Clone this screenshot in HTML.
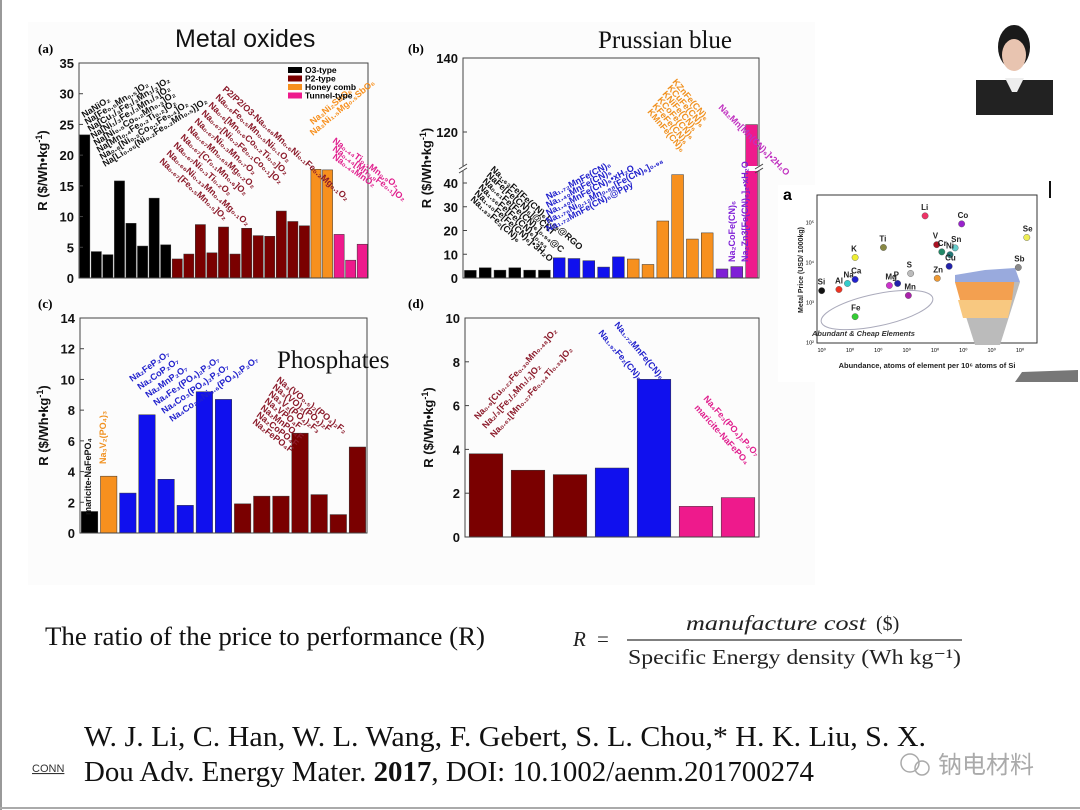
<!DOCTYPE html>
<html><head><meta charset="utf-8">
<style>
html,body{margin:0;padding:0;background:#fff;}
svg{display:block;}
.tk{font-family:"Liberation Sans",sans-serif;font-weight:bold;font-size:13px;fill:#111;}
.lb{font-family:"Liberation Sans",sans-serif;font-weight:bold;font-size:9px;}
</style></head>
<body>
<svg id="s" width="1080" height="810" viewBox="0 0 1080 810" xmlns="http://www.w3.org/2000/svg">
<rect x="0" y="0" width="1080" height="810" fill="#fff"/>
<rect x="28" y="22" width="787" height="563" fill="#fcfcfc"/>
<line x1="1" y1="0" x2="1" y2="810" stroke="#999" stroke-width="2"/>
<line x1="0" y1="808" x2="1080" y2="808" stroke="#aaa" stroke-width="2"/>

<text x="175" y="47" font-family="Liberation Sans,sans-serif" font-size="25" fill="#111">Metal oxides</text>
<text x="598" y="48" font-family="Liberation Serif,serif" font-size="25" fill="#111">Prussian blue</text>

<text x="38" y="53" font-family="Liberation Serif,serif" font-weight="bold" font-size="13">(a)</text>
<text x="408" y="53" font-family="Liberation Serif,serif" font-weight="bold" font-size="13">(b)</text>
<text x="38" y="308" font-family="Liberation Serif,serif" font-weight="bold" font-size="13">(c)</text>
<text x="408" y="308" font-family="Liberation Serif,serif" font-weight="bold" font-size="13">(d)</text>

<g id="pa"></g>
<g id="pb"></g>
<g id="pc"></g>
<g id="pd"></g>

<text x="277" y="368" font-family="Liberation Serif,serif" font-size="25" fill="#111">Phosphates</text>

<g font-family="Liberation Sans,sans-serif" font-weight="bold" font-size="8.5">
<rect x="288" y="67" width="14" height="6" fill="#000"/><text x="305" y="73">O3-type</text>
<rect x="288" y="75.5" width="14" height="6" fill="#7a0000"/><text x="305" y="81.5">P2-type</text>
<rect x="288" y="84" width="14" height="6" fill="#f7901e"/><text x="305" y="90">Honey comb</text>
<rect x="288" y="92.5" width="14" height="6" fill="#ee1a8c"/><text x="305" y="98.5">Tunnel-type</text>
</g>

<g id="inset"></g>

<g>
<rect x="976" y="15" width="77" height="100" fill="#fff"/>
<rect x="976" y="80" width="77" height="35" fill="#222"/>
<polygon points="1005,78 1024,78 1017,92 1012,92" fill="#eee"/>
<ellipse cx="1014" cy="47" rx="16" ry="22" fill="#1a1a1a"/>
<ellipse cx="1014" cy="55" rx="12" ry="16" fill="#e8c4b0"/>
</g>
<line x1="1050" y1="181" x2="1050" y2="198" stroke="#111" stroke-width="2"/>

<text x="45" y="645" font-family="Liberation Serif,serif" font-size="26" fill="#111" textLength="440" lengthAdjust="spacingAndGlyphs">The ratio of the price to performance (R)</text>
<g font-family="Liberation Serif,serif" fill="#222">
<text x="573" y="646" font-size="21" font-style="italic">R</text>
<text x="597" y="646" font-size="21">=</text>
<text x="686" y="630" font-size="21" font-style="italic" textLength="180" lengthAdjust="spacingAndGlyphs">manufacture cost</text>
<text x="876" y="630" font-size="20">($)</text>
<line x1="627" y1="640" x2="962" y2="640" stroke="#333" stroke-width="1.3"/>
<text x="628" y="664" font-size="21" textLength="333" lengthAdjust="spacingAndGlyphs">Specific Energy density  (Wh kg⁻¹)</text>
</g>
<g font-family="Liberation Serif,serif" font-size="28" fill="#111">
<text x="84" y="746" textLength="842" lengthAdjust="spacingAndGlyphs">W. J. Li, C. Han, W. L. Wang, F. Gebert, S. L. Chou,* H. K. Liu, S. X.</text>
<text x="84" y="781" textLength="730" lengthAdjust="spacingAndGlyphs">Dou Adv. Energy Mater. <tspan font-weight="bold">2017</tspan>, DOI: 10.1002/aenm.201700274</text>
</g>
<text x="32" y="772" font-family="Liberation Sans,sans-serif" font-size="11" fill="#333" text-decoration="underline">CONN</text>
<g fill="#999">
<circle cx="910" cy="763" r="9" fill="none" stroke="#aaa" stroke-width="1.5"/>
<circle cx="922" cy="768" r="7" fill="none" stroke="#aaa" stroke-width="1.5"/>
<text x="938" y="773" font-family="Liberation Sans,Noto Sans CJK SC,sans-serif" font-size="24" fill="#aaa">钠电材料</text>
</g>
</svg>

<script>
const aValues=[23.3,4.3,3.8,15.8,8.9,5.2,13,5.4,3.1,3.9,8.7,4.1,8.3,3.9,8.1,6.9,6.8,10.9,9.2,8.5,17.7,17.6,7.1,2.9,5.5];
const aGroups=['o3','o3','o3','o3','o3','o3','o3','o3','p2','p2','p2','p2','p2','p2','p2','p2','p2','p2','p2','p2','hc','hc','tn','tn','tn'];
const aTicks=[0,5,10,15,20,25,30,35];
const bValues=[3.2,4.3,3.3,4.3,3.3,3.3,8.5,8.2,7.3,4.6,8.9,8,5.7,24,43.5,16.4,19,3.8,4.8,122];
const bGroups=['k','k','k','k','k','k','bl','bl','bl','bl','bl','or','or','or','or','or','or','pu','pu','pk'];
const bTicksLow=[0,10,20,30,40];
const bTicksHigh=[120,140];
const cValues=[1.4,3.7,2.6,7.7,3.5,1.8,9.2,8.7,1.9,2.4,2.4,6.5,2.5,1.2,5.6];
const cGroups=['k','or','bl','bl','bl','bl','bl','bl','mr','mr','mr','mr','mr','mr','mr'];
const cTicks=[0,2,4,6,8,10,12,14];
const dValues=[3.8,3.05,2.85,3.15,7.2,1.4,1.8];
const dGroups=['mr','mr','mr','bl','bl','pk','pk'];
const dTicks=[0,2,4,6,8,10];
const insetElements=['Si','Al','Na','Ca','K','Fe','Ti','Mg','P','S','Mn','Li','V','Cr','Zn','Sn','Ni','Cu','Co','Sb','Se'];
const insetAbund=[0,0.61,0.91,1.18,1.18,1.18,2.18,2.39,2.68,3.14,3.06,3.65,4.06,4.24,4.08,4.71,4.53,4.5,4.94,6.94,7.24];
const insetPrice=[3.3,3.33,3.48,3.58,4.13,2.65,4.38,3.43,3.48,3.73,3.18,5.17,4.45,4.27,3.61,4.37,4.2,3.91,4.97,3.88,4.63];
const insetColors=['#111','#e32','#3cc','#22c','#ee3','#3c3','#884','#c3c','#22a','#bbb','#a2a','#e36','#a12','#286','#e93','#6cc','#277','#22a','#92c','#888','#ee5'];

const COL={o3:'#000',p2:'#7a0000',hc:'#f7901e',tn:'#ee1a8c',k:'#000',bl:'#1010ee',or:'#f7901e',pu:'#7f1fd6',pk:'#ee1a8c',mr:'#7a0000'};
const NS='http://www.w3.org/2000/svg';
function mk(tag,attrs,parent){const e=document.createElementNS(NS,tag);for(const k in attrs)e.setAttribute(k,attrs[k]);parent.appendChild(e);return e;}

function panel(gid,x0,x1,yTop,yBot,vmax,vals,groups,ticks,name,pad){
  const g=document.getElementById(gid);
  const y=v=>yBot-(v/vmax)*(yBot-yTop);
  const band=(x1-x0)/vals.length;
  vals.forEach((v,i)=>{
    const r=mk('rect',{x:x0+i*band+band*pad/2,y:y(v),width:band*(1-pad),height:yBot-y(v),fill:COL[groups[i]],stroke:'#333','stroke-width':0.5},g);
    
    
  });
  mk('rect',{x:x0,y:yTop,width:x1-x0,height:yBot-yTop,fill:'none',stroke:'#444','stroke-width':1},g);
  ticks.forEach(t=>{
    mk('line',{x1:x0,x2:x0+4,y1:y(t),y2:y(t),stroke:'#444'},g);
    const tx=mk('text',{x:x0-5,y:y(t)+5,'text-anchor':'end',class:'tk'},g);tx.textContent=t;
    
    
  });
  const yt=mk('text',{x:0,y:0,class:'tk','text-anchor':'middle',transform:`translate(${x0-32},${(yTop+yBot)/2}) rotate(-90)`},g);
  yt.innerHTML='R ($/Wh•kg<tspan font-size="9" dy="-5">-1</tspan><tspan dy="5">)</tspan>';
  
  
  return {y,band};
}
function labels(gid,list,x,y,dx,dy,rot,color){
  const g=document.getElementById(gid);
  list.forEach((s,i)=>{
    const t=mk('text',{x:0,y:0,class:'lb',fill:color,transform:`translate(${x+i*dx},${y+i*dy}) rotate(${rot})`},g);
    t.textContent=s;
    
    
  });
}

panel('pa',79,368,63,278,35,aValues,aGroups,aTicks,'metal-oxides',0.12);
labels('pa',['NaNiO₂','Na[Fe₀.₅Mn₀.₅]O₂','Na[Cu₁/₃Fe₁/₃Mn₁/₃]O₂','Na[Ni₁/₃Fe₁/₃Mn₁/₃]O₂','Na[Ni₀.₅Co₀.₂Mn₀.₃]O₂','Na[Mn₀.₄Fe₀.₂Ti₀.₂]O₂','Na₀.₈[Ni₀.₃Co₀.₁Fe₀.₄]O₂','Na[Li₀.₀₅(Ni₀.₂Fe₀.₂Mn₀.₅)]O₂'],84,118,3,7,-32,'#111');
labels('pa',['P2/P2/O3-Na₀.₆₆Mn₀.₆Ni₀.₁Fe₀.₂Mg₀.₁O₂','Na₀.₆Fe₀.₅Mn₀.₅Ni₀.₁O₂','Na₀.₆[Mn₀.₆Co₀.₂Ti₀.₂]O₂','Na₀.₆₇[Ni₀.₂Fe₀.₁Co₀.₁]O₂','Na₀.₆₇Ni₀.₃Mn₀.₇O₂','Na₀.₆₇Mn₀.₆₅Mg₀.₂O₂','Na₀.₆₇[Cr₀.₁Mn₀.₆]O₂','Na₀.₆₇Ni₀.₃Ti₀.₂O₂','Na₀.₆₆Ni₀.₃₃Mn₀.₄Mg₀.₁O₂','Na₀.₆₇[Fe₀.₅Mn₀.₅]O₂'],222,90,-7,8,42,'#8b1a2a');
labels('pa',['Na₃Ni₂SbO₆','Na₃Ni₁.₅Mg₀.₅SbO₆'],313,125,0,11,-40,'#f7901e');
labels('pa',['Na₀.₄₄Ti₀.₁Mn₀.₉O₂','Na₀.₄₄[Mn₀.₉Fe₀.₁]O₂','Na₀.₄₄MnO₂'],332,142,0,8,36,'#e0208e');

(function(){
  const g=document.getElementById('pb');
  const x0=463,x1=759,yBot=278,yTop=58;
  const yl=v=>yBot-v*2.375;
  const yh=v=>132-(v-120)*3.7;
  const ymap=v=>v<=45?yl(v):yh(v);
  const band=(x1-x0)/bValues.length;
  bValues.forEach((v,i)=>{
    const r=mk('rect',{x:x0+i*band+band*0.1,y:ymap(v),width:band*0.8,height:yBot-ymap(v),fill:COL[bGroups[i]],stroke:'#333','stroke-width':0.5},g);
    
    
  });
  mk('rect',{x:x0,y:yTop,width:x1-x0,height:yBot-yTop,fill:'none',stroke:'#444'},g);
  mk('rect',{x:x0-4,y:166,width:x1-x0+8,height:5,fill:'#fcfcfc'},g);
  [x0,x1].forEach(xx=>{mk('line',{x1:xx-4,y1:169,x2:xx+4,y2:164,stroke:'#444'},g);mk('line',{x1:xx-4,y1:173,x2:xx+4,y2:168,stroke:'#444'},g);});
  bTicksLow.forEach(t=>{mk('line',{x1:x0,x2:x0+4,y1:yl(t),y2:yl(t),stroke:'#444'},g);const tx=mk('text',{x:x0-5,y:yl(t)+5,'text-anchor':'end',class:'tk'},g);tx.textContent=t;});
  bTicksHigh.forEach(t=>{mk('line',{x1:x0,x2:x0+4,y1:yh(t),y2:yh(t),stroke:'#444'},g);const tx=mk('text',{x:x0-5,y:yh(t)+5,'text-anchor':'end',class:'tk'},g);tx.textContent=t;});
  const yt=mk('text',{x:0,y:0,class:'tk','text-anchor':'middle',transform:`translate(${x0-32},168) rotate(-90)`},g);
  yt.innerHTML='R ($/Wh•kg<tspan font-size="9" dy="-5">-1</tspan><tspan dy="5">)</tspan>';
  
  
})();
labels('pb',['Na₁.₆₃Fe[Fe(CN)₆]₀.₈₉@RGO','NaFe[Fe(CN)₆]@CNT','Na₀.₆₁Fe[Fe(CN)₆]₀.₉₄@C','Na₁.₅₆Fe[Fe(CN)₆]₀.₉₄','Na₁.₄₀Fe[Fe(CN)₆]•3H₂O','Na₁.₈₃Fe₂(CN)₆'],490,170,-4,6,42,'#111');
labels('pb',['Na₁.₇₂MnFe(CN)₆','Na₁.₄₀MnFe(CN)₆','Na₁.₄₀MnFe(CN)₆•xH₂O','Na₁.₇₆Ni₀.₁₂Mn₀.₈₈[Fe(CN)₆]₀.₉₈','Na₁.₇₂MnFe(CN)₆@Ppy'],548,200,0,8,-28,'#2020cc');
labels('pb',['KZnFe(CN)₆','KCuFe(CN)₆','KNiFe(CN)₆','KCoFe(CN)₆','KFeFe(CN)₆','KMnFe(CN)₆'],672,82,-5,6,50,'#f0901e');
labels('pb',['Na₂CoFe(CN)₆','Na₂Zn3[Fe(CN)₆]₂•xH₂O'],735,262,13,0,-90,'#7f1fd6');
labels('pb',['Na₂Mn[Mn(CN)₆]•2H₂O'],718,108,0,0,45,'#c030c0');

panel('pc',80,367,318,533,14,cValues,cGroups,cTicks,'phosphates',0.14);
labels('pc',['maricite-NaFePO₄'],91,515,0,0,-90,'#111');
labels('pc',['Na₃V₂(PO₄)₃'],106,464,0,0,-90,'#f0901e');
labels('pc',['Na₂FeP₂O₇','Na₂CoP₂O₇','Na₂MnP₂O₇','Na₄Fe₃(PO₄)₂P₂O₇','Na₄Co₃(PO₄)₂P₂O₇','Na₄Co₂.₄Ni₀.₆(PO₄)₂P₂O₇'],132,382,8,8,-35,'#2020cc');
labels('pc',['Na₃(VO₀.₅)₂(PO₄)₂F₂','Na₃(VO)₂(PO₄)₂F','Na₃V₂(PO₄)₂F₃','Na₂VPO₄F','Na₂MnPO₄F','Na₂CoPO₄F','Na₂FePO₄F'],276,381,-4,7,38,'#8b1a2a');

panel('pd',465,759,318,537,10,dValues,dGroups,dTicks,'comparison',0.2);
labels('pd',['Na₀.₉[Cu₀.₂₂Fe₀.₃₀Mn₀.₄₈]O₂','Na₂/₃[Fe₁/₂Mn₁/₂]O₂','Na₀.₆₁[Mn₀.₂₇Fe₀.₃₄Ti₀.₃₉]O₂'],478,420,8,9,-48,'#8b1a2a');
labels('pd',['Na₁.₇₂MnFe(CN)₆','Na₁.₉₂Fe₂(CN)₆'],614,325,-16,8,50,'#2020cc');
labels('pd',['Na₄Fe₃(PO₄)₂P₂O₇','maricite-NaFePO₄'],703,399,-9,9,48,'#e0208e');

(function(){
  const g=document.getElementById('inset');
  mk('rect',{x:778,y:185,width:300,height:197,fill:'#fff'},g);
  const ax0=817,ax1=1037,ay0=195,ay1=343;
  const xs=d=>770+(155+85*d)/3;
  const ys=d=>170+(518-120*(d-2))/3;
  mk('rect',{x:ax0,y:ay0,width:ax1-ax0,height:ay1-ay0,fill:'none',stroke:'#333'},g);
  const tx=mk('text',{x:783,y:200,'font-family':'Liberation Sans,sans-serif','font-weight':'bold','font-size':16},g);tx.textContent='a';
  mk('polygon',{points:'955,282 1010,272 1020,282 1000,345 975,345',fill:'#bbb'},g);
  mk('polygon',{points:'955,282 1015,276 1012,300 960,300',fill:'#f3a050'},g);
  mk('polygon',{points:'958,300 1012,300 1008,318 963,318',fill:'#f8c880'},g);
  mk('polygon',{points:'955,275 985,270 1015,268 1020,282 955,282',fill:'#9ad'},g);
  mk('ellipse',{cx:877,cy:310,rx:57,ry:16,fill:'none',stroke:'#aab',transform:'rotate(-12 877 310)'},g);
  const t2=mk('text',{x:812,y:336,'font-family':'Liberation Sans,sans-serif','font-style':'italic','font-weight':'bold','font-size':7.5,fill:'#333'},g);t2.textContent='Abundant & Cheap Elements';
  insetElements.forEach((el,i)=>{
    const c=mk('circle',{cx:xs(insetAbund[i]),cy:ys(insetPrice[i]),r:3.2,fill:insetColors[i],stroke:'#555','stroke-width':0.4},g);
    
    
    const t=mk('text',{x:xs(insetAbund[i])-4,y:ys(insetPrice[i])-6,'font-family':'Liberation Sans,sans-serif','font-weight':'bold','font-size':8,fill:'#222'},g);t.textContent=el;
  });
  for(let d=0;d<8;d++){const t=mk('text',{x:xs(d),y:352,'font-family':'Liberation Sans,sans-serif','font-size':5.5,'text-anchor':'middle'},g);t.textContent='10⁰';}
  for(let d=2;d<=5;d++){const t=mk('text',{x:814,y:ys(d)+2,'font-family':'Liberation Sans,sans-serif','font-size':5.5,'text-anchor':'end'},g);t.textContent='10'+['²','³','⁴','⁵'][d-2];}
  const xl=mk('text',{x:927,y:368,'text-anchor':'middle','font-family':'Liberation Sans,sans-serif','font-weight':'bold','font-size':7.5,fill:'#222'},g);xl.textContent='Abundance, atoms of element per 10⁶ atoms of Si';
  const yl=mk('text',{x:0,y:0,'text-anchor':'middle','font-family':'Liberation Sans,sans-serif','font-weight':'bold','font-size':7,fill:'#222',transform:'translate(803,270) rotate(-90)'},g);yl.textContent='Metal Price (USD/ 1000kg)';
  mk('polygon',{points:'1015,382 1078,382 1078,370 1022,372',fill:'#777'},g);
})();
</script>
</body></html>
